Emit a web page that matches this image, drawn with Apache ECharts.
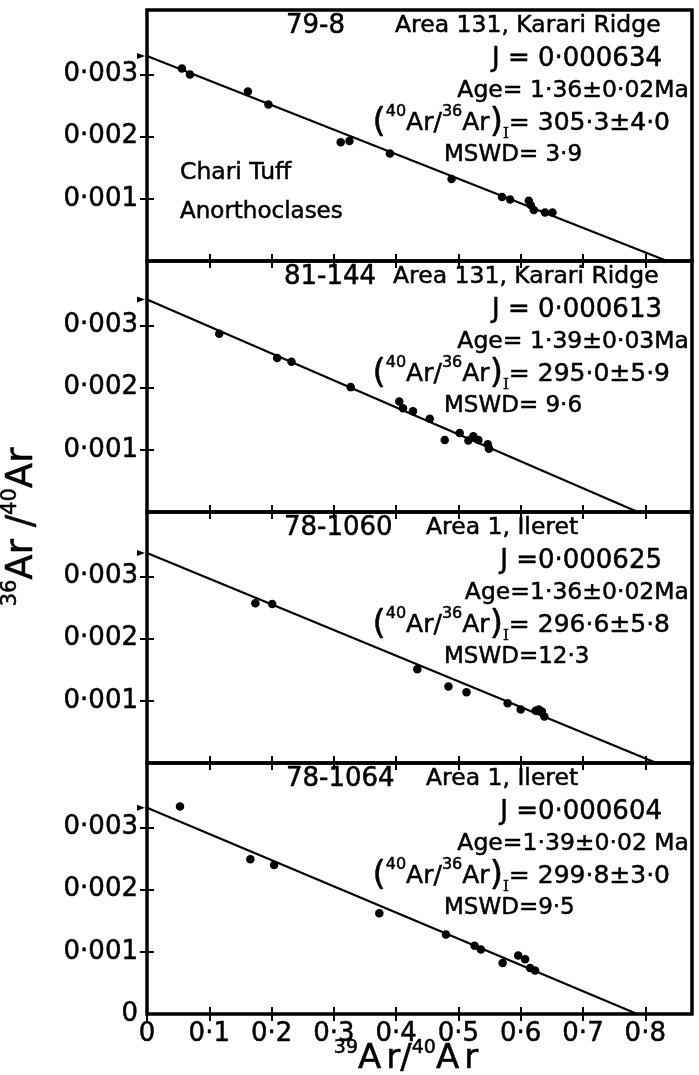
<!DOCTYPE html>
<html><head><meta charset="utf-8">
<script src="https://cdn.jsdelivr.net/npm/echarts@6/dist/echarts.min.js"></script>
<style>html,body{margin:0;padding:0;background:#fff}#c{width:699px;height:1075px}</style>
</head><body><div id="c"></div>
<script>
// ---- tick labels ----
const xTickValues = [0,0.1,0.2,0.3,0.4,0.5,0.6,0.7,0.8];
const xTickLabels = ['0','0·1','0·2','0·3','0·4','0·5','0·6','0·7','0·8'];
const yTickValues = [0,0.001,0.002,0.003];
const yTickLabels = ['0','0·001','0·002','0·003'];

// ---- panel texts ----
const sampleIds = ['79-8','81-144','78-1060','78-1064'];
const areaNames = ['Area 131, Karari Ridge','Area 131, Karari Ridge','Area 1, Ileret','Area 1, Ileret'];
const jValues = ['J = 0·000634','J = 0·000613','J =0·000625','J =0·000604'];
const ageTexts = ['Age= 1·36±0·02Ma','Age= 1·39±0·03Ma','Age=1·36±0·02Ma','Age=1·39±0·02 Ma'];
const ratioValues = ['= 305·3±4·0','= 295·0±5·9','= 296·6±5·8','= 299·8±3·0'];
const mswdTexts = ['MSWD= 3·9','MSWD= 9·6','MSWD=12·3','MSWD=9·5'];
const sideNotes = ['Chari Tuff','Anorthoclases'];

// ---- data: 39Ar/40Ar (x) and 36Ar/40Ar (y) ----
const p1x = [0.056,0.069,0.162,0.195,0.311,0.325,0.390,0.489,0.570,0.583,0.613,0.616,0.621,0.639,0.651];
const p1y = [0.00310,0.00300,0.00273,0.00252,0.00191,0.00193,0.00173,0.00132,0.00103,0.00099,0.00097,0.00090,0.00082,0.00078,0.00078];
const p2x = [0.116,0.209,0.232,0.327,0.405,0.411,0.427,0.454,0.478,0.502,0.516,0.524,0.532,0.547,0.549];
const p2y = [0.00287,0.00248,0.00242,0.00201,0.00178,0.00167,0.00162,0.00150,0.00116,0.00127,0.00115,0.00122,0.00116,0.00109,0.00102];
const p3x = [0.174,0.201,0.434,0.484,0.513,0.579,0.600,0.624,0.629,0.634,0.638];
const p3y = [0.00257,0.00256,0.00151,0.00123,0.00114,0.00096,0.00086,0.00084,0.00086,0.00083,0.00075];
const p4x = [0.053,0.166,0.204,0.373,0.480,0.526,0.536,0.571,0.596,0.607,0.615,0.623];
const p4y = [0.00334,0.00249,0.00240,0.00162,0.00128,0.00110,0.00104,0.00082,0.00094,0.00088,0.00074,0.00070];

// isochron fit lines: y-intercept (x=0) and x-intercept (y=0)
const yIntercepts = [0.00330,0.00342,0.00338,0.00332];
const xIntercepts = [0.835,0.788,0.818,0.787];

const pointsX = [p1x,p2x,p3x,p4x];
const pointsY = [p1y,p2y,p3y,p4y];

const F = 'DejaVu Sans';
const PANEL_TOP = 10, PANEL_H = 251, LEFT = 147, RIGHT = 7;
const X_MAX = 0.875, Y_MAX = 0.00404;
const LABEL_INK = {textBorderColor:'#000', textBorderWidth:0.5};
const INK = {stroke:'#000', lineWidth:0.5};

const grids = [], xAxes = [], yAxes = [], series = [], graphics = [];
const tickStyle = (vals) => ({show:true, inside:true, length:7, customValues:vals, lineStyle:{color:'#000', width:2}});

function xFmt(v){
  const k = xTickValues.findIndex(t => Math.abs(t - v) < 1e-6);
  return k < 0 ? '' : xTickLabels[k];
}
function yFmt(v){
  const k = yTickValues.findIndex(t => Math.abs(t - v) < 1e-7);
  return k < 0 ? '' : yTickLabels[k];
}

const areaLeft = [395,393,426,426];
const idLeft = [286,284,284,286];

for (let i = 0; i < 4; i++) {
  const top = PANEL_TOP + i*PANEL_H;
  grids.push({left:LEFT, right:RIGHT, top:top, height:PANEL_H, show:true,
    borderColor:'#000', borderWidth:3.5, backgroundColor:'transparent'});
  ['bottom','top'].forEach(pos => {
    xAxes.push({type:'value', gridIndex:i, position:pos, min:0, max:X_MAX, interval:0.1,
      axisLine:{show:false}, axisTick:tickStyle(xTickValues), splitLine:{show:false},
      axisLabel:Object.assign({show:(i===3 && pos==='bottom'), customValues:xTickValues, formatter:xFmt, color:'#000',
        fontFamily:F, fontSize:26, margin:7}, LABEL_INK)});
  });
  const labelVals = i === 3 ? yTickValues : yTickValues.slice(1);
  ['left','right'].forEach(pos => {
    yAxes.push({type:'value', gridIndex:i, position:pos, min:0, max:Y_MAX, interval:0.001,
      axisLine:{show:false}, axisTick:tickStyle(yTickValues.slice(1)), splitLine:{show:false},
      axisLabel:Object.assign({show:pos==='left', customValues:labelVals, formatter:yFmt, color:'#000',
        fontFamily:F, fontSize:26, margin:9}, LABEL_INK)});
  });
  const xi = 2*i, yi = 2*i;
  series.push({type:'line', xAxisIndex:xi, yAxisIndex:yi, symbol:'none', silent:true,
    lineStyle:{color:'#000', width:2.3}, data:[[0, yIntercepts[i]],[xIntercepts[i], 0]], z:2});
  series.push({type:'scatter', xAxisIndex:xi, yAxisIndex:yi, symbol:'circle', symbolSize:8.5,
    itemStyle:{color:'#000', opacity:1}, data:pointsX[i].map((x,k)=>[x, pointsY[i][k]]), z:3});
  series.push({type:'scatter', xAxisIndex:xi, yAxisIndex:yi, symbol:'triangle', symbolRotate:-90,
    symbolSize:[6,8], symbolOffset:[-6,0], clip:false, itemStyle:{color:'#000', opacity:1},
    data:[[0, yIntercepts[i]]], z:4});

  // annotations
  const base = Object.assign({fill:'#000', fontFamily:F, verticalAlign:'middle'}, INK);
  graphics.push({type:'text', x:idLeft[i], y:top+16, style:Object.assign({}, base, {text:sampleIds[i], fontSize:26, align:'left'})});
  graphics.push({type:'text', x:areaLeft[i], y:top+16, style:Object.assign({}, base, {text:areaNames[i], fontSize:23.5, align:'left'})});
  graphics.push({type:'text', x:662, y:top+49, style:Object.assign({}, base, {text:jValues[i], fontSize:26, align:'right'})});
  graphics.push({type:'text', x:689, y:top+81, style:Object.assign({}, base, {text:ageTexts[i], fontSize:23.5, align:'right'})});
  graphics.push({type:'text', x:670, y:top+113, style:Object.assign({}, INK, {
    text:'{p|(}{s|40}{t|Ar/}{s|36}{t|Ar}{p|)}{b|I}{t|' + ratioValues[i] + '}',
    align:'right', verticalAlign:'middle', fill:'#000',
    rich:{
      t:Object.assign({fontFamily:F, fontSize:25, lineHeight:38, verticalAlign:'middle', fill:'#000'}, INK),
      s:Object.assign({fontFamily:F, fontSize:16, lineHeight:16, verticalAlign:'top', fill:'#000'}, INK),
      p:Object.assign({fontFamily:F, fontSize:34, lineHeight:38, verticalAlign:'middle', fill:'#000'}, INK),
      b:Object.assign({fontFamily:'DejaVu Serif', fontSize:15, lineHeight:16, verticalAlign:'bottom', fill:'#000'}, INK)
    }})});
  graphics.push({type:'text', x:444, y:top+145, style:Object.assign({}, base, {text:mswdTexts[i], fontSize:23, align:'left'})});
}
graphics.push({type:'text', x:180, y:PANEL_TOP+163, style:Object.assign({text:sideNotes[0], fill:'#000', fontFamily:F, fontSize:23.5, align:'left', verticalAlign:'middle'}, INK)});
graphics.push({type:'text', x:180, y:PANEL_TOP+202, style:Object.assign({text:sideNotes[1], fill:'#000', fontFamily:F, fontSize:23, align:'left', verticalAlign:'middle'}, INK)});

const xTitleRich = {
  m:Object.assign({fontFamily:F, fontSize:34, lineHeight:40, verticalAlign:'middle', fill:'#000'}, INK),
  r:Object.assign({fontFamily:F, fontSize:34, lineHeight:40, verticalAlign:'middle', fill:'#000', padding:[0,0,0,5]}, INK),
  s:Object.assign({fontFamily:F, fontSize:19, lineHeight:20, verticalAlign:'top', fill:'#000'}, INK)
};
const yTitleRich = {
  m:Object.assign({fontFamily:F, fontSize:37, lineHeight:44, verticalAlign:'middle', fill:'#000'}, INK),
  s:Object.assign({fontFamily:F, fontSize:21, lineHeight:22, verticalAlign:'top', fill:'#000'}, INK)
};
graphics.push({type:'text', x:406, y:1059, style:{text:'{s|39}{m|A}{r|r/}{s|40}{m|A}{r|r}', align:'center', verticalAlign:'middle', rich:xTitleRich}});
graphics.push({type:'text', x:22, y:527, rotation:Math.PI/2, style:{text:'{s|36}{m|Ar /}{s|40}{m|Ar}', align:'center', verticalAlign:'middle', rich:yTitleRich}});

const chart = echarts.init(document.getElementById('c'), null, {renderer:'canvas'});
chart.setOption({
  animation:false,
  backgroundColor:'#fff',
  grid:grids, xAxis:xAxes, yAxis:yAxes, series:series, graphic:graphics
});
</script></body></html>
